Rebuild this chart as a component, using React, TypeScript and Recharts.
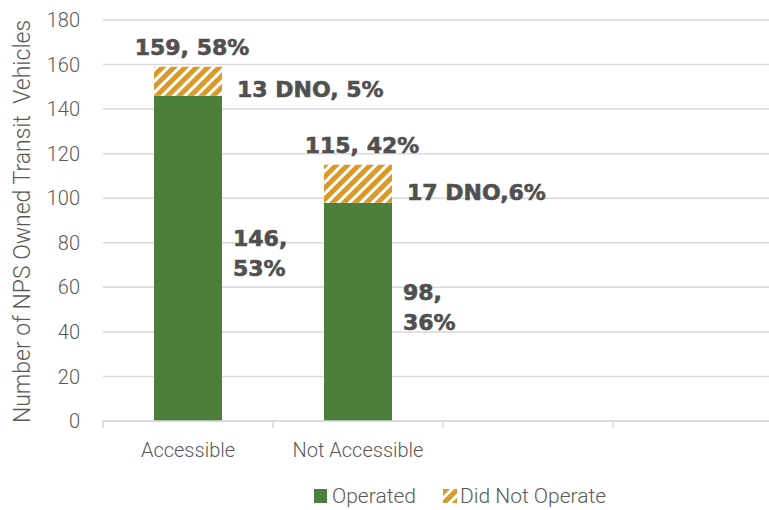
import React from 'react';
import { BarChart, Bar, XAxis, YAxis, CartesianGrid, LabelList, Legend, Label } from 'recharts';

const categories = ['Accessible', 'Not Accessible', ' ', '  '];
const operatedValues = [146, 98, null, null];
const didNotOperateValues = [13, 17, null, null];
const totalLabels = ['159, 58%', '115, 42%', '', ''];
const operatedLabelLines = [['146,', '53%'], ['98,', '36%'], [], []];
const dnoLabels = ['13 DNO, 5%', '17 DNO,6%', '', ''];
const yTicks = [0, 20, 40, 60, 80, 100, 120, 140, 160, 180];
const seriesNames = ['Operated', 'Did Not Operate'];
const yTitle = 'Number of NPS Owned Transit  Vehicles';

const GREEN = '#4B7F3B';
const ORANGE = '#DA9A2A';
const GRID = '#D9D9D9';
const AXIS_TEXT = '#595959';
const LABEL_TEXT = '#505050';
const AXIS_FONT = 'Roboto, "Noto Sans", sans-serif';
const AXIS_WEIGHT = 300;
const LABEL_FONT = '"DejaVu Sans", Verdana, sans-serif';

const data = categories.map((name, i) => ({
  name,
  operated: operatedValues[i],
  dno: didNotOperateValues[i],
}));

const getBox = (props: any) => {
  const vb = props.viewBox && typeof props.viewBox.x === 'number' ? props.viewBox : props;
  return { x: Number(vb.x), y: Number(vb.y), width: Number(vb.width), height: Number(vb.height) };
};

const labelStyle = {
  fontFamily: LABEL_FONT,
  fontWeight: 700,
  fontSize: 22,
  fill: LABEL_TEXT,
  stroke: LABEL_TEXT,
  strokeWidth: 0.6,
};

const TotalLabel = (props: any) => {
  const text = totalLabels[props.index];
  if (!text) return null;
  const b = getBox(props);
  return (
    <text x={b.x + b.width / 2 + 4} y={b.y - 12} textAnchor="middle" style={labelStyle}>
      {text}
    </text>
  );
};

const DnoLabel = (props: any) => {
  const text = dnoLabels[props.index];
  if (!text) return null;
  const b = getBox(props);
  const mid = b.y + b.height / 2;
  return (
    <text x={b.x + b.width + 15} y={mid + 16} textAnchor="start" style={labelStyle}>
      {text}
    </text>
  );
};

const OperatedLabel = (props: any) => {
  const lines = operatedLabelLines[props.index];
  if (!lines || lines.length === 0) return null;
  const b = getBox(props);
  const mid = b.y + b.height / 2;
  return (
    <text x={b.x + b.width + 11} y={mid - 12} textAnchor="start" style={labelStyle}>
      {lines.map((l, i) => (
        <tspan key={i} x={b.x + b.width + 11} dy={i === 0 ? 0 : 30}>
          {l}
        </tspan>
      ))}
    </text>
  );
};

const CategoryTick = (props: any) => {
  const { x, y, payload, index, visibleTicksCount } = props;
  const half = payload && payload.offset ? payload.offset : 85;
  const axisY = y - 7;
  const isLast = index === (visibleTicksCount ?? categories.length) - 1;
  return (
    <g>
      <line x1={x - half} x2={x - half} y1={axisY} y2={axisY + 7} stroke={GRID} strokeWidth={1.5} />
      {isLast && (
        <line x1={x + half} x2={x + half} y1={axisY} y2={axisY + 7} stroke={GRID} strokeWidth={1.5} />
      )}
      <text
        x={x}
        y={axisY + 36}
        textAnchor="middle"
        style={{ fontFamily: AXIS_FONT, fontWeight: AXIS_WEIGHT, fontSize: 20, fill: AXIS_TEXT }}
      >
        {payload.value}
      </text>
    </g>
  );
};

const YTitle = (props: any) => {
  const vb = props.viewBox || { x: 0, y: 20, width: 103, height: 401 };
  const cx = vb.x + 22;
  const cy = vb.y + vb.height / 2 + 1;
  return (
    <text
      x={cx}
      y={cy}
      transform={`rotate(-90 ${cx} ${cy})`}
      textAnchor="middle"
      dominantBaseline="central"
      style={{ fontFamily: AXIS_FONT, fontWeight: AXIS_WEIGHT, fontSize: 23, fill: AXIS_TEXT, whiteSpace: 'pre' }}
    >
      {yTitle}
    </text>
  );
};

const HatchIcon = () => (
  <svg width={14} height={14} style={{ display: 'block' }}>
    <defs>
      <pattern id="legendHatch" width={8} height={8} patternUnits="userSpaceOnUse" patternTransform="rotate(45)">
        <rect x={0} y={0} width={8} height={8} fill="#ffffff" />
        <rect x={0} y={0} width={5} height={8} fill={ORANGE} />
      </pattern>
    </defs>
    <rect x={0} y={0} width={14} height={14} fill="url(#legendHatch)" />
  </svg>
);

const LegendContent = () => (
  <div
    style={{
      display: 'flex',
      alignItems: 'center',
      paddingLeft: 314,
      fontFamily: AXIS_FONT,
      fontWeight: AXIS_WEIGHT,
      fontSize: 21,
      color: AXIS_TEXT,
      lineHeight: '24px',
    }}
  >
    <div style={{ width: 13, height: 14, background: GREEN, marginRight: 5 }} />
    <span style={{ marginRight: 27 }}>{seriesNames[0]}</span>
    <HatchIcon />
    <span style={{ marginLeft: 3 }}>{seriesNames[1]}</span>
  </div>
);

export default function App() {
  return (
    <div style={{ width: 769, height: 510, overflow: 'hidden', position: 'relative', background: '#fff' }}>
      <style>{'body{margin:0;overflow:hidden;background:#fff}'}</style>
      <BarChart
        width={790}
        height={510}
        data={data}
        margin={{ top: 20, right: 7, left: 0, bottom: 0 }}
        barSize={68}
      >
        <defs>
          <pattern id="dnoHatch" width={8} height={8} patternUnits="userSpaceOnUse" patternTransform="rotate(45)">
            <rect x={0} y={0} width={8} height={8} fill="#ffffff" />
            <rect x={0} y={0} width={5} height={8} fill={ORANGE} />
          </pattern>
        </defs>
        <CartesianGrid vertical={false} stroke={GRID} strokeWidth={1.5} />
        <XAxis
          dataKey="name"
          height={89}
          axisLine={{ stroke: GRID, strokeWidth: 1.5 }}
          tickLine={false}
          tickSize={7}
          tickMargin={0}
          interval={0}
          tick={<CategoryTick />}
        />
        <YAxis
          width={103}
          domain={[0, 180]}
          ticks={yTicks}
          axisLine={false}
          tickLine={false}
          tickMargin={17}
          interval={0}
          tick={{ fontFamily: AXIS_FONT, fontWeight: AXIS_WEIGHT, fontSize: 20, fill: AXIS_TEXT }}
        >
          <Label content={<YTitle />} />
        </YAxis>
        <Legend
          verticalAlign="middle"
          align="center"
          layout="horizontal"
          wrapperStyle={{ top: 484, left: 0, width: 769, height: 26 }}
          content={<LegendContent />}
        />
        <Bar dataKey="operated" name={seriesNames[0]} stackId="a" fill={GREEN} isAnimationActive={false}>
          <LabelList dataKey="operated" content={<OperatedLabel />} />
        </Bar>
        <Bar dataKey="dno" name={seriesNames[1]} stackId="a" fill="url(#dnoHatch)" isAnimationActive={false}>
          <LabelList dataKey="dno" content={<DnoLabel />} />
          <LabelList dataKey="dno" content={<TotalLabel />} />
        </Bar>
      </BarChart>
    </div>
  );
}
